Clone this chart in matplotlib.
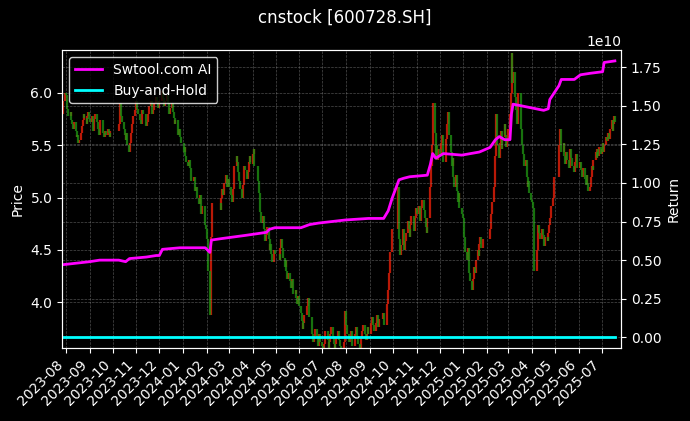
import numpy as np
import pandas as pd
import matplotlib
matplotlib.use('Agg')
import matplotlib.pyplot as plt
import matplotlib.dates as mdates

# daily closes (one line per month)
close_2023 = [
    5.80, 5.92, 6.00,
    5.98, 5.90, 5.85, 5.78, 5.82, 5.74, 5.70, 5.66, 5.72, 5.64, 5.58, 5.60, 5.52, 5.55, 5.62, 5.68, 5.74, 5.80, 5.76, 5.70, 5.78, 5.82, 5.75,
    5.72, 5.78, 5.70, 5.64, 5.75, 5.80, 5.72, 5.66, 5.60, 5.68, 5.74, 5.70, 5.62, 5.58, 5.64, 5.60, 5.66, 5.62, 5.58, 5.64,
    5.70, 5.84, 5.90, 5.78, 5.72, 5.66, 5.60, 5.55, 5.62, 5.50, 5.44, 5.52, 5.62, 5.70, 5.78, 5.84, 5.90,
    5.92, 5.85, 5.80, 5.74, 5.70, 5.78, 5.84, 5.80, 5.74, 5.68, 5.72, 5.80, 5.88, 5.92, 5.86, 5.80, 5.84, 5.90, 5.96, 5.92, 5.86, 5.90,
    5.92, 5.98, 6.02, 5.95, 5.88, 5.92, 5.98, 5.90, 5.84, 5.80, 5.86, 5.90, 5.82, 5.76, 5.70, 5.74, 5.66, 5.60, 5.66, 5.58, 5.52,
]
close_2024 = [
    5.44, 5.48, 5.40, 5.34, 5.30, 5.36, 5.28, 5.22, 5.16, 5.20, 5.12, 5.06, 5.10, 5.00, 4.94, 5.02, 4.90, 4.84, 4.92, 4.80, 4.74, 4.70,
    4.60, 4.30, 3.88, 4.28, 4.62, 4.95, 4.88, 5.00, 5.08, 5.02, 5.14, 5.22, 5.16, 5.10, 5.18,
    5.10, 5.02, 4.96, 5.08, 5.20, 5.30, 5.40, 5.34, 5.24, 5.16, 5.08, 5.00, 5.12, 5.22, 5.30, 5.26, 5.18, 5.24, 5.34, 5.40, 5.32,
    5.42, 5.46, 5.30, 5.16, 5.04, 4.96, 4.86, 4.76, 4.82, 4.70, 4.58, 4.64, 4.72, 4.60, 4.50, 4.56, 4.46, 4.38, 4.50, 4.46,
    4.40, 4.52, 4.60, 4.52, 4.42, 4.34, 4.40, 4.30, 4.22, 4.28, 4.20, 4.14, 4.22, 4.16, 4.08, 4.12, 4.04, 3.98, 4.06, 3.96,
    3.90, 3.82, 3.74, 3.80, 3.88, 3.96, 4.04, 3.94, 3.86, 3.80, 3.70, 3.62, 3.68, 3.74, 3.66, 3.58, 3.64, 3.70, 3.62,
    3.58, 3.52, 3.60, 3.66, 3.72, 3.64, 3.56, 3.62, 3.70, 3.76, 3.68, 3.60, 3.54, 3.60, 3.66, 3.72, 3.64, 3.58, 3.50, 3.56, 3.62, 3.74, 3.92,
    3.78, 3.70, 3.62, 3.66, 3.72, 3.64, 3.58, 3.62, 3.70, 3.76, 3.68, 3.60, 3.54, 3.60, 3.66, 3.72, 3.78, 3.70, 3.64, 3.70, 3.76, 3.70,
    3.74, 3.80, 3.86, 3.78, 3.72, 3.80, 3.88, 3.82, 3.76, 3.84, 3.90, 3.82, 3.78, 3.86, 3.98, 4.12, 4.28, 4.48, 4.70,
    5.10, 4.60, 4.45, 4.55, 4.70, 4.62, 4.50, 4.58, 4.66, 4.78, 4.70, 4.62, 4.74, 4.82, 4.76, 4.68, 4.80, 4.90,
    4.84, 4.92, 4.86, 4.78, 4.90, 4.98, 4.88, 4.80, 4.72, 4.66, 4.80, 4.96, 5.10, 5.30, 5.50, 5.90, 5.62, 5.40, 5.50, 5.36, 5.46,
    5.40, 5.52, 5.60, 5.48, 5.34, 5.42, 5.56, 5.70, 5.82, 5.60, 5.44, 5.30, 5.38, 5.20, 5.10, 5.22, 5.06, 4.96, 5.04, 4.90, 4.84, 4.80,
]
close_2025 = [
    4.62, 4.48, 4.40, 4.52, 4.36, 4.28, 4.20, 4.12, 4.22, 4.34, 4.28, 4.40, 4.50, 4.44, 4.56, 4.62, 4.52, 4.60,
    4.70, 4.84, 4.96, 5.10, 5.22, 5.40, 5.80, 5.50, 5.38, 5.52, 5.64, 5.46, 5.58, 5.70, 5.60, 5.48, 5.56, 5.66,
    5.80, 6.00, 6.38, 6.10, 6.20, 5.96, 5.84, 5.70, 5.90, 6.00, 5.82, 5.66, 5.50, 5.42, 5.30, 5.36, 5.20, 5.10, 5.16, 5.04, 4.98,
    4.96, 4.90, 4.30, 4.50, 4.62, 4.74, 4.66, 4.60, 4.70, 4.64, 4.58, 4.54, 4.62, 4.58, 4.66, 4.74, 4.80, 4.92, 5.00, 5.10, 5.20,
    5.50, 5.66, 5.58, 5.44, 5.52, 5.40, 5.32, 5.44, 5.36, 5.28, 5.36, 5.46, 5.38, 5.30, 5.24, 5.34, 5.42, 5.36, 5.28,
    5.34, 5.26, 5.20, 5.28, 5.18, 5.12, 5.22, 5.14, 5.06, 5.10, 5.20, 5.30, 5.26, 5.36, 5.44, 5.38, 5.46, 5.40, 5.48, 5.42,
    5.46, 5.52, 5.44, 5.50, 5.58, 5.54, 5.62, 5.56, 5.66, 5.74, 5.64, 5.70, 5.78, 5.72,
]
holidays = ['2023-09-29', '2023-10-02', '2023-10-03', '2023-10-04', '2023-10-05', '2023-10-06',
            '2024-01-01', '2024-02-09', '2024-02-12', '2024-02-13', '2024-02-14', '2024-02-15',
            '2024-02-16', '2024-04-04', '2024-04-05', '2024-05-01', '2024-05-02', '2024-05-03',
            '2024-06-10', '2024-09-16', '2024-09-17', '2024-10-01', '2024-10-02', '2024-10-03',
            '2024-10-04', '2024-10-07', '2025-01-01', '2025-01-28', '2025-01-29', '2025-01-30',
            '2025-01-31', '2025-02-03', '2025-02-04', '2025-04-04', '2025-05-01', '2025-05-02',
            '2025-05-05', '2025-06-02']

# strategy equity curve (x 1e10)
ret_dates = ['2023-07-27', '2023-08-14', '2023-09-01', '2023-09-14', '2023-10-09', '2023-10-18',
             '2023-10-23', '2023-11-14', '2023-11-27', '2023-12-01', '2023-12-05', '2023-12-28',
             '2024-01-30', '2024-02-01', '2024-02-05', '2024-02-07', '2024-02-21', '2024-03-22',
             '2024-04-19', '2024-04-23', '2024-04-30', '2024-06-03', '2024-06-14', '2024-06-26',
             '2024-07-31', '2024-08-30', '2024-09-19', '2024-09-25', '2024-09-30', '2024-10-09',
             '2024-10-15', '2024-10-23', '2024-11-15', '2024-11-19', '2024-11-22', '2024-11-26',
             '2024-12-06', '2024-12-30', '2025-01-22', '2025-02-05', '2025-02-12', '2025-02-17',
             '2025-02-24', '2025-03-03', '2025-03-05', '2025-03-07', '2025-03-27', '2025-04-16',
             '2025-04-22', '2025-04-24', '2025-05-06', '2025-05-09', '2025-05-26', '2025-06-03',
             '2025-06-16', '2025-07-02', '2025-07-04', '2025-07-18']
ret_vals = [0.47, 0.48, 0.49, 0.50, 0.50, 0.49,
            0.51, 0.52, 0.53, 0.53, 0.57, 0.58,
            0.58, 0.57, 0.55, 0.63, 0.64, 0.66,
            0.68, 0.70, 0.71, 0.71, 0.73, 0.74,
            0.76, 0.77, 0.77, 0.82, 0.90, 1.02,
            1.03, 1.04, 1.05, 1.12, 1.19, 1.16,
            1.19, 1.18, 1.20, 1.23, 1.28, 1.30,
            1.28, 1.28, 1.45, 1.51, 1.49, 1.47,
            1.48, 1.54, 1.63, 1.67, 1.67, 1.70,
            1.71, 1.72, 1.78, 1.79]

close = np.array(close_2023 + close_2024 + close_2025)
dates = pd.bdate_range('2023-07-27', periods=len(close), freq='C', holidays=holidays)
opens = np.r_[close[0], close[:-1]]
up = close >= opens

plt.style.use('dark_background')
fig, ax = plt.subplots(figsize=(6.9, 4.21), dpi=100)
fig.subplots_adjust(left=0.09, right=0.9, bottom=0.173, top=0.881)

ax.vlines(dates[up], opens[up], close[up], color='#e8200a', lw=1.6, alpha=0.8)
ax.vlines(dates[~up], opens[~up], close[~up], color='#1f8f12', lw=1.6, alpha=0.8)
ax.set_ylabel('Price')
ax.set_ylim(3.56, 6.41)
ax.grid(True, linestyle='--', color='gray', lw=0.5, alpha=0.6)

ax2 = ax.twinx()
ax2.plot(pd.to_datetime(ret_dates), np.array(ret_vals) * 1e10, color='magenta', lw=2, label='Swtool.com AI')
ax2.plot(dates, close / close[0], color='cyan', lw=2, label='Buy-and-Hold')
ax2.set_ylabel('Return')
ax2.set_ylim(-0.07e10, 1.86e10)
ax2.grid(True, linestyle='--', color='gray', lw=0.5, alpha=0.6)
ax2.legend(loc='upper left', facecolor='black', edgecolor='white')

ax.set_xlim(pd.Timestamp('2023-07-27'), pd.Timestamp('2025-07-26'))
ax.xaxis.set_major_locator(mdates.MonthLocator())
ax.xaxis.set_major_formatter(mdates.DateFormatter('%Y-%m'))
plt.setp(ax.get_xticklabels(), rotation=45, ha='right')

fig.suptitle('cnstock [600728.SH]', fontsize=12)
fig.savefig('out.png', dpi=100)
